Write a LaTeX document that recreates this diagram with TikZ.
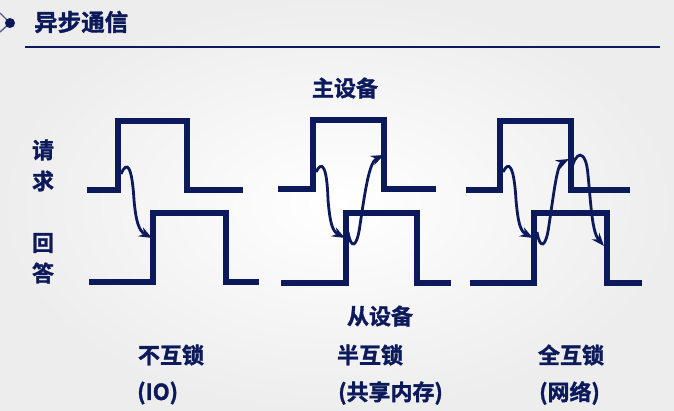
\documentclass[tikz,border=0pt]{standalone}
\usepackage{fontspec}
\setmainfont{Noto Sans CJK SC Bold}[FakeBold=1.5]
\usetikzlibrary{arrows.meta}
\definecolor{navy}{RGB}{12,26,92}
\tikzset{
  sig/.style={draw=navy,line width=5.5pt,line cap=rect,line join=miter},
  hand/.style={draw=navy,line width=2.8pt,-{Stealth[length=13pt,width=10pt]}},
  lbl/.style={text=navy,font=\fontsize{22}{22}\selectfont,inner sep=0pt}
}
\begin{document}
\begin{tikzpicture}[x=1pt,y=-1pt]
\shade[inner color=white,outer color=gray!14] (0,0) rectangle (674,411);
\useasboundingbox (0,0) rectangle (674,411);
% header icon
\coordinate (ic) at (10,23);
\draw[navy!70,line width=1.4pt] (ic) -- (0,13) (ic) -- (0,32);
\fill[navy] (ic) circle (5);
\node[lbl,anchor=west,font=\fontsize{23.5}{23.5}\selectfont] (title) at (34,22) {异步通信};
\draw[navy,line width=2.5pt] (25,47) -- (660,47);
% side labels
\node[lbl] (q1) at (43,150) {请};
\node[lbl] (q2) at (43,181) {求};
\node[lbl] (a1) at (43,243) {回};
\node[lbl] (a2) at (43,273) {答};
\node[lbl] (master) at (345,88) {主设备};
\node[lbl] (slave) at (380,316) {从设备};
% panel 1
\draw[sig] (90,190) -- (118,190) -- (118,121) -- (187,121) -- (187,190) -- (240,190);
\draw[sig] (92,282) -- (153,282) -- (153,213) -- (226,213) -- (226,282) -- (256,282);
\draw[hand] (121,174) .. controls (127,160) and (132,166) .. (134,200) .. controls (136,222) and (139,231) .. (152,238);
% panel 2
\draw[sig] (281,189) -- (313,189) -- (313,120) -- (384,120) -- (384,189) -- (433,189);
\draw[sig] (284,283) -- (346,283) -- (346,213) -- (417,213) -- (417,283) -- (448,283);
\draw[hand] (316,172) .. controls (322,160) and (327,166) .. (328,200) .. controls (330,222) and (332,231) .. (345,238);
\draw[hand] (348,232) .. controls (351,250) and (357,248) .. (360,225) .. controls (365,192) and (369,162) .. (384,155);
% panel 3
\draw[sig] (469,190) -- (500,190) -- (500,121) -- (571,121) -- (571,190) -- (627,190);
\draw[sig] (473,283) -- (534,283) -- (534,213) -- (607,213) -- (607,283) -- (639,283);
\draw[hand] (503,172) .. controls (509,160) and (514,166) .. (516,200) .. controls (518,222) and (520,231) .. (533,238);
\draw[hand] (537,232) .. controls (540,250) and (546,248) .. (549,225) .. controls (554,192) and (557,165) .. (569,159);
\draw[hand] (571,172) .. controls (575,150) and (586,148) .. (588,175) .. controls (591,205) and (592,232) .. (604,246);
% captions
\node[lbl] (c1) at (171,355) {不互锁};
\node[lbl] (c2) at (370,355) {半互锁};
\node[lbl] (c3) at (571,355) {全互锁};
\node[lbl,anchor=west] (d1) at (137,393) {(IO)};
\node[lbl,anchor=west] (d2) at (338,393) {(共享内存)};
\node[lbl,anchor=west] (d3) at (539,393) {(网络)};
\end{tikzpicture}
\end{document}
